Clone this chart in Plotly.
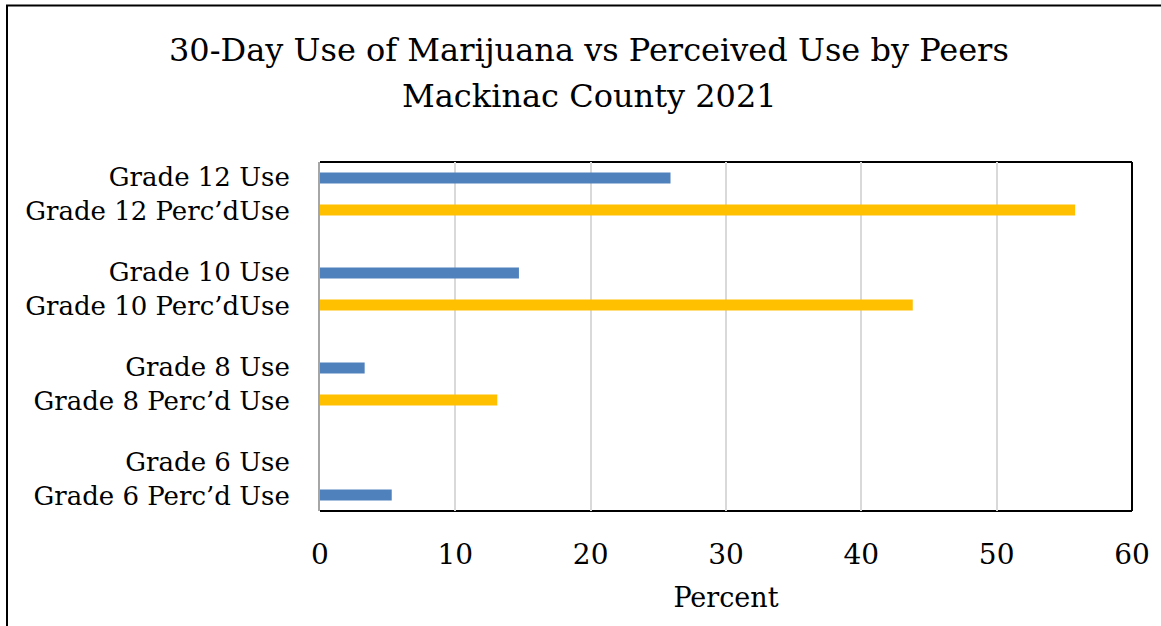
import plotly.graph_objects as go

grades = ["Grade 12", "Grade 10", "Grade 8", "Grade 6"]
tick_labels = [
    "Grade 12 Use<br>Grade 12 Perc’dUse",
    "Grade 10 Use<br>Grade 10 Perc’dUse",
    "Grade 8 Use<br>Grade 8 Perc’d Use",
    "Grade 6 Use<br>Grade 6 Perc’d Use",
]
use_values = [25.9, 14.7, 3.3, None]
perceived_values = [55.8, 43.8, 13.1, 5.3]
x_ticks = [0, 10, 20, 30, 40, 50, 60]

BLUE = "#4F81BD"
YELLOW = "#FFC000"
FONT = "DejaVu Serif"

# Grade 6 perceived bar is drawn in blue in the original
perc_colors = [YELLOW, YELLOW, YELLOW, BLUE]

W, H = 1161, 626
L, R, T, B = 320, 1132, 162, 511

fig = go.Figure()
fig.add_trace(go.Bar(y=grades, x=use_values, orientation="h", name="Use",
                     marker=dict(color=BLUE, line=dict(width=0))))
fig.add_trace(go.Bar(y=grades, x=perceived_values, orientation="h", name="Perceived Use",
                     marker=dict(color=perc_colors, line=dict(width=0))))

def px_x(px):
    return (px - L) / (R - L)

def px_y(py):
    return (B - py) / (B - T)

def line(x0, y0, x1, y1, color="#000000", width=2):
    return dict(type="line", xref="paper", yref="paper", x0=x0, y0=y0, x1=x1, y1=y1,
                line=dict(color=color, width=width), layer="below")

shapes = [
    # plot area border (top, right, bottom)
    line(0, 1, 1, 1),
    line(1, 0, 1, 1),
    line(0, 0, 1, 0),
    # outer chart border
    dict(type="rect", xref="paper", yref="paper", x0=px_x(7), x1=px_x(1175),
         y0=px_y(645), y1=px_y(5.5), line=dict(color="#000000", width=2), layer="below"),
]

annotations = [
    dict(text="30-Day Use of Marijuana vs Perceived Use by Peers", xref="paper", yref="paper",
         x=px_x(589), y=px_y(50), xanchor="center", yanchor="middle", showarrow=False,
         font=dict(family=FONT, size=32, color="#000000")),
    dict(text="Mackinac County 2021", xref="paper", yref="paper",
         x=px_x(589), y=px_y(96), xanchor="center", yanchor="middle", showarrow=False,
         font=dict(family=FONT, size=32, color="#000000")),
]

fig.update_layout(
    width=W, height=H,
    margin=dict(l=L, r=W - R, t=T, b=H - B, pad=0),
    paper_bgcolor="white", plot_bgcolor="white",
    barmode="group", bargap=0.326, bargroupgap=0.656,
    showlegend=False,
    shapes=shapes, annotations=annotations,
    font=dict(family=FONT, color="#000000"),
)
fig.update_xaxes(
    range=[0, 60], tickvals=x_ticks, showgrid=True, gridcolor="#D9D9D9", gridwidth=2,
    zeroline=False, showline=False, ticks="", ticklabelstandoff=24,
    tickfont=dict(family=FONT, size=28, color="#000000"),
    title=dict(text="Percent", font=dict(family=FONT, size=27, color="#000000"), standoff=18),
)
fig.update_yaxes(
    type="category", categoryorder="array", categoryarray=grades,
    range=[3.337, -0.337], tickvals=grades, ticktext=tick_labels,
    showgrid=False, zeroline=False, showline=True, linecolor="#A6A6A6", linewidth=2,
    ticks="", ticklabelstandoff=23,
    tickfont=dict(family=FONT, size=26, color="#000000"),
)

fig.write_html("out.html")
